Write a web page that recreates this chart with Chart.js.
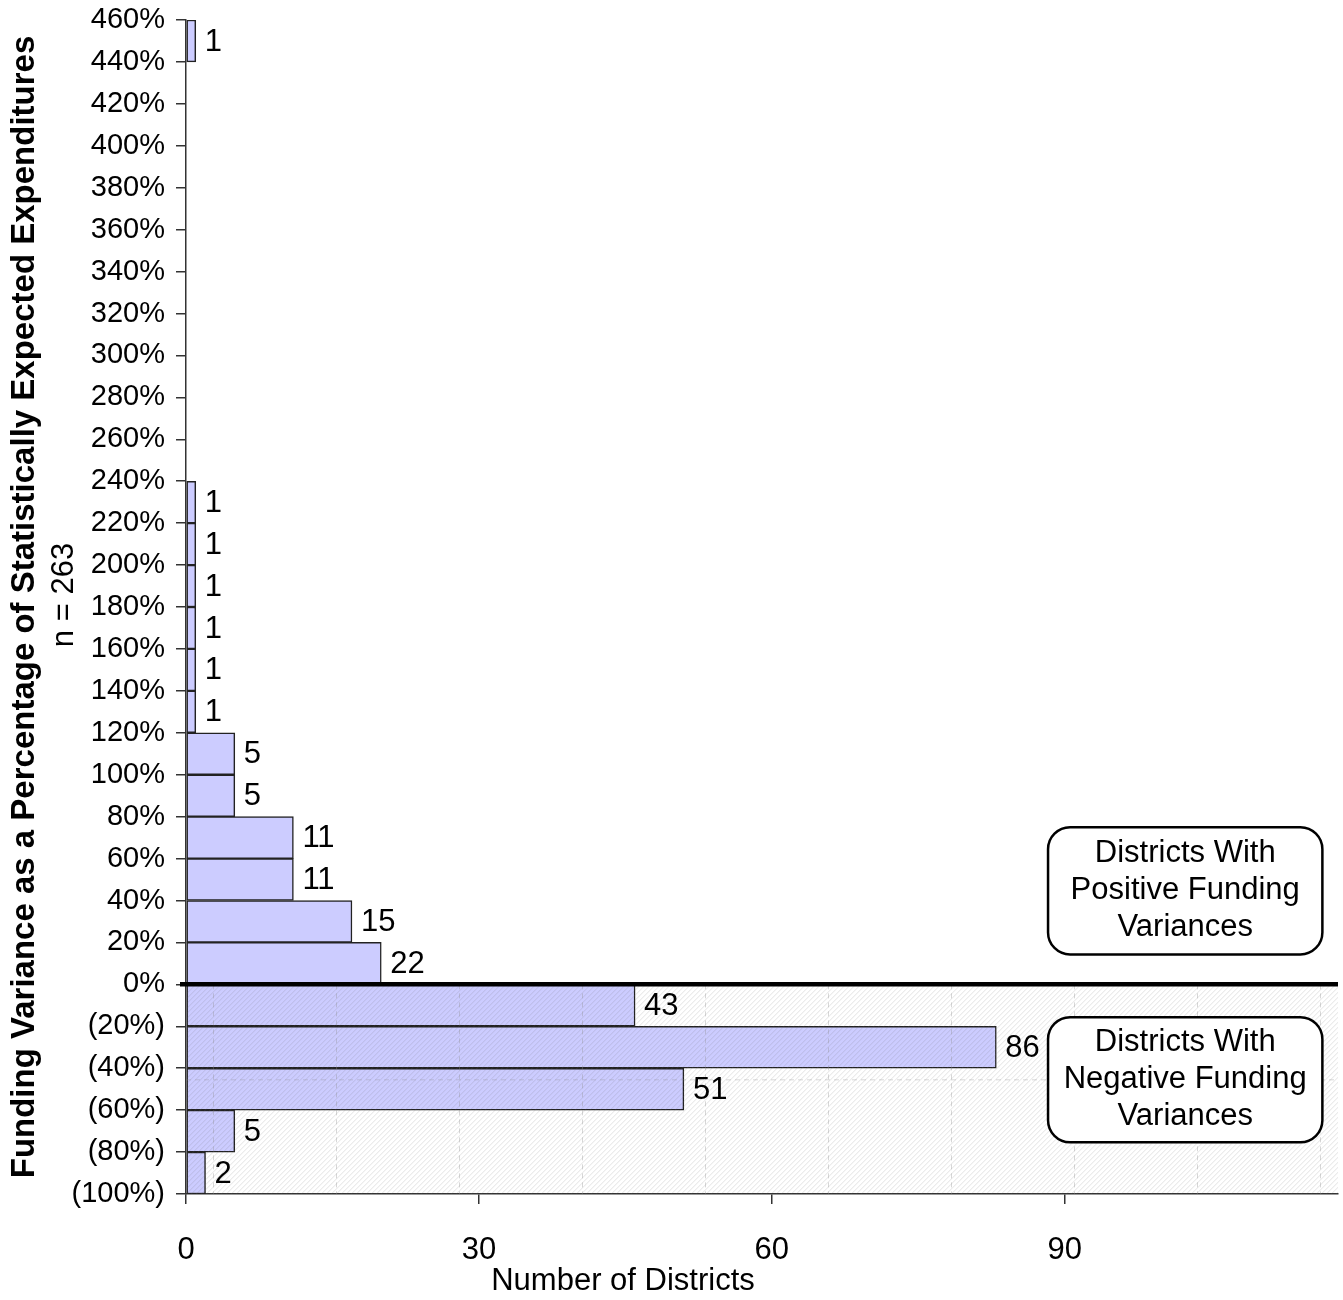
<!DOCTYPE html>
<html>
<head>
<meta charset="utf-8">
<script src="https://cdn.jsdelivr.net/npm/chart.js@4.4.1/dist/chart.umd.min.js"></script>
<style>
  html, body { margin: 0; padding: 0; background: #fff; }
  #wrap { width: 1343px; height: 1300px; }
</style>
</head>
<body>
<div id="wrap"><canvas id="chart" width="1343" height="1300"></canvas></div>
<script>
// 20% bins, listed top to bottom by their lower edge
const binStarts = [440, 420, 400, 380, 360, 340, 320, 300, 280, 260, 240, 220, 200, 180, 160, 140,
                   120, 100, 80, 60, 40, 20, 0, -20, -40, -60, -80, -100];
// bar lengths as drawn in the picture
const barLengths = [1, 0, 0, 0, 0, 0, 0, 0, 0, 0, 0, 1, 1, 1, 1, 1,
                    1, 5, 5, 11, 11, 17, 20, 46, 83, 51, 5, 2];
// counts printed next to the bars
const countLabels = [1, null, null, null, null, null, null, null, null, null, null, 1, 1, 1, 1, 1,
                     1, 5, 5, 11, 11, 15, 22, 43, 86, 51, 5, 2];
const yTickValues = [460, 440, 420, 400, 380, 360, 340, 320, 300, 280, 260, 240, 220, 200, 180, 160,
                     140, 120, 100, 80, 60, 40, 20, 0, -20, -40, -60, -80, -100];
const xTickValues = [0, 30, 60, 90];
const xTitle = 'Number of Districts';
const sampleNote = 'n = 263';

const FONT = "'Liberation Sans', Arial, sans-serif";

// callout boxes, placed in data units
const callouts = [
  { lines: ['Districts With', 'Positive Funding', 'Variances'], x0: 88.3, x1: 116.4, y0: 75, y1: 14.3 },
  { lines: ['Districts With', 'Negative Funding', 'Variances'], x0: 88.3, x1: 116.4, y0: -15.7, y1: -75.3 }
];

const pctLabel = v => v < 0 ? '(' + (-v) + '%)' : v + '%';

const overlayPlugin = {
  id: 'overlay',
  afterDatasetsDraw(chart) {
    const { ctx, chartArea: a } = chart;
    const yS = chart.scales.y;
    const y0 = yS.getPixelForValue(0);
    const yb = yS.getPixelForValue(-100);

    // hatched texture over the negative side
    ctx.save();
    ctx.beginPath();
    ctx.rect(a.left, y0, a.right - a.left, yb - y0);
    ctx.clip();
    ctx.strokeStyle = 'rgba(110,110,110,0.2)';
    ctx.lineWidth = 1;
    const h = yb - y0;
    for (let x = a.left - h; x < a.right + h; x += 5) {
      ctx.beginPath();
      ctx.moveTo(x, yb);
      ctx.lineTo(x + h, y0);
      ctx.stroke();
    }
    ctx.strokeStyle = 'rgba(140,140,140,0.35)';
    ctx.setLineDash([5, 4]);
    for (let x = a.left + 27; x < a.right; x += 123) {
      ctx.beginPath();
      ctx.moveTo(x + 0.5, y0);
      ctx.lineTo(x + 0.5, yb);
      ctx.stroke();
    }
    ctx.beginPath();
    ctx.moveTo(a.left, y0 + 95.5);
    ctx.lineTo(a.right, y0 + 95.5);
    ctx.stroke();
    ctx.restore();

    // count labels
    const meta = chart.getDatasetMeta(0);
    ctx.save();
    ctx.font = '31px ' + FONT;
    ctx.fillStyle = '#000';
    ctx.textAlign = 'left';
    ctx.textBaseline = 'middle';
    meta.data.forEach((bar, i) => {
      if (countLabels[i] == null) return;
      ctx.fillText(String(countLabels[i]), bar.x + 9, bar.y + 1);
    });
    ctx.restore();

    // heavy zero line
    ctx.save();
    ctx.strokeStyle = '#000';
    ctx.lineWidth = 4.5;
    ctx.beginPath();
    ctx.moveTo(a.left - 6, y0);
    ctx.lineTo(a.right, y0);
    ctx.stroke();
    ctx.restore();
  },
  afterDraw(chart) {
    const { ctx, chartArea: a } = chart;
    const xS = chart.scales.x, yS = chart.scales.y;

    // n = 263 under the axis title
    ctx.save();
    ctx.translate(73, 595);
    ctx.rotate(-Math.PI / 2);
    ctx.font = '31px ' + FONT;
    ctx.fillStyle = '#000';
    ctx.textAlign = 'center';
    ctx.textBaseline = 'alphabetic';
    ctx.fillText(sampleNote, 0, 0);
    ctx.restore();

    // x axis title, set left of centre as in the source
    ctx.save();
    ctx.font = '31px ' + FONT;
    ctx.fillStyle = '#000';
    ctx.textAlign = 'center';
    ctx.textBaseline = 'middle';
    ctx.fillText(xTitle, a.left + 437, 1281);
    ctx.restore();

    callouts.forEach(c => {
      const l = xS.getPixelForValue(c.x0), r = xS.getPixelForValue(c.x1);
      const t = yS.getPixelForValue(c.y0), b = yS.getPixelForValue(c.y1);
      ctx.save();
      ctx.beginPath();
      ctx.roundRect(l, t, r - l, b - t, 22);
      ctx.fillStyle = '#fff';
      ctx.fill();
      ctx.lineWidth = 2.5;
      ctx.strokeStyle = '#000';
      ctx.stroke();
      ctx.font = '31px ' + FONT;
      ctx.fillStyle = '#000';
      ctx.textAlign = 'center';
      ctx.textBaseline = 'middle';
      const cx = (l + r) / 2, cy = (t + b) / 2;
      c.lines.forEach((s, i) => ctx.fillText(s, cx, cy + (i - 1) * 37));
      ctx.restore();
    });
  }
};

new Chart(document.getElementById('chart'), {
  type: 'bar',
  data: {
    labels: binStarts.map(v => pctLabel(v) + ' to ' + pctLabel(v + 20)),
    datasets: [{
      data: barLengths,
      xAxisID: 'x',
      yAxisID: 'yc',
      backgroundColor: '#ccccff',
      borderColor: '#222',
      borderWidth: 1.5,
      borderSkipped: false,
      barPercentage: 1,
      categoryPercentage: 1
    }]
  },
  options: {
    indexAxis: 'y',
    responsive: false,
    animation: false,
    layout: { padding: { top: 20, right: 5, bottom: 0, left: 0 } },
    plugins: { legend: { display: false }, tooltip: { enabled: false } },
    scales: {
      x: {
        type: 'linear',
        position: 'bottom',
        min: 0,
        max: 118,
        offset: false,
        afterBuildTicks: s => { s.ticks = xTickValues.map(v => ({ value: v })); },
        afterFit: s => { s.height = 106; },
        ticks: { color: '#000', font: { family: FONT, size: 31 }, padding: 28, maxRotation: 0 },
        grid: { offset: false, drawOnChartArea: false, drawTicks: true, tickLength: 10, color: '#333', lineWidth: 1.5 },
        border: { display: true, color: '#333', width: 1.5 }
      },
      y: {
        type: 'linear',
        position: 'left',
        min: -100,
        max: 460,
        offset: false,
        afterBuildTicks: s => { s.ticks = yTickValues.map(v => ({ value: v })); },
        afterFit: s => { s.width = 186; s.paddingTop = 0; s.paddingBottom = 0; },
        ticks: { color: '#000', font: { family: FONT, size: 29 }, padding: 11, callback: v => pctLabel(v) },
        grid: { offset: false, drawOnChartArea: false, drawTicks: true, tickLength: 10, color: '#333', lineWidth: 1.5 },
        border: { display: true, color: '#333', width: 1.5 },
        title: { display: true, text: 'Funding Variance as a Percentage of Statistically Expected Expenditures',
                 color: '#000', font: { family: FONT, size: 33, weight: 'bold' }, padding: { top: 5, bottom: 0 } }
      },
      yc: {
        type: 'category',
        display: false,
        offset: true
      }
    }
  },
  plugins: [overlayPlugin]
});
</script>
</body>
</html>
